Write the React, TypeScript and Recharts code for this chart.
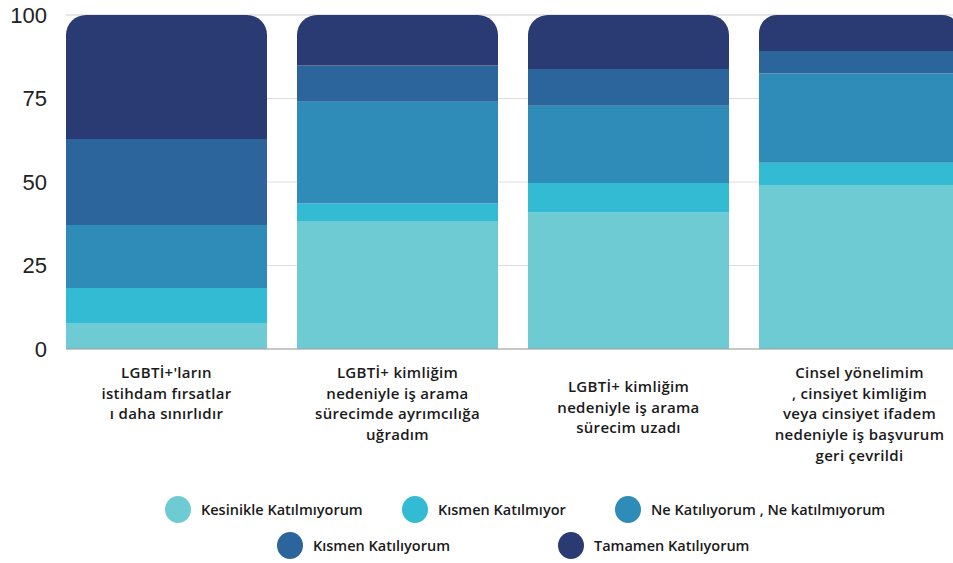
import React from "react";
import {
  BarChart,
  Bar,
  XAxis,
  YAxis,
  CartesianGrid,
  Legend,
} from "recharts";

// kategoriler (satır sonları eksen etiketindeki kırılımlar)
const categories = [
  "LGBTİ+'ların\nistihdam fırsatlar\nı daha sınırlıdır",
  "LGBTİ+ kimliğim\nnedeniyle iş arama\nsürecimde ayrımcılığa\nuğradım",
  "LGBTİ+ kimliğim\nnedeniyle iş arama\nsürecim uzadı",
  "Cinsel yönelimim\n, cinsiyet kimliğim\nveya cinsiyet ifadem\nnedeniyle iş başvurum\ngeri çevrildi",
];

const kesinlikleKatilmiyorum = [7.8, 38.3, 40.9, 49.1];
const kismenKatilmiyor = [10.5, 5.3, 8.8, 6.7];
const neKatiliyorumNeKatilmiyorum = [18.8, 30.4, 23.1, 26.7];
const kismenKatiliyorum = [25.8, 10.9, 11.0, 6.7];
const tamamenKatiliyorum = [37.1, 15.1, 16.2, 10.8];

const yTicks = [0, 25, 50, 75, 100];

const data = categories.map((name, i) => ({
  name,
  k1: kesinlikleKatilmiyorum[i],
  k2: kismenKatilmiyor[i],
  k3: neKatiliyorumNeKatilmiyorum[i],
  k4: kismenKatiliyorum[i],
  k5: tamamenKatiliyorum[i],
}));

const FONT = "'Open Sans', 'Noto Sans', sans-serif";

// etiketlerin dikey kayması (3. etiket biraz aşağıda)
const TICK_SHIFT = [0, 0, 14, 0];

const CategoryTick = (props: any) => {
  const { x, y, payload, index } = props;
  const lines = String(payload.value).split("\n");
  const base = y + 29 + (TICK_SHIFT[index] || 0);
  return (
    <text
      x={x}
      y={base}
      textAnchor="middle"
      fill="#1a1a1a"
      fontFamily={FONT}
      fontSize={15}
      fontWeight={600}
      letterSpacing={0.3}
    >
      {lines.map((l, i) => (
        <tspan key={i} x={x} y={base + i * 20.7}>
          {l}
        </tspan>
      ))}
    </text>
  );
};

// lejant yerleşimi, seri adına göre
const LEGEND_SLOTS: Record<string, { left: number; top: number }> = {
  "Kesinikle Katılmıyorum": { left: 165, top: 496 },
  "Kısmen Katılmıyor": { left: 402, top: 496 },
  "Ne Katılıyorum , Ne katılmıyorum": { left: 615, top: 496 },
  "Kısmen Katılıyorum": { left: 277, top: 532 },
  "Tamamen Katılıyorum": { left: 558, top: 532 },
};

const renderLegend = (props: any) => {
  const { payload = [] } = props;
  return (
    <div style={{ position: "relative", width: 990, height: 563 }}>
      {payload.map((p: any) => {
        const slot = LEGEND_SLOTS[p.value] || { left: 0, top: 0 };
        return (
          <div
            key={p.value}
            style={{
              position: "absolute",
              left: slot.left,
              top: slot.top,
              display: "flex",
              alignItems: "center",
              height: 27,
            }}
          >
            <span
              style={{
                display: "inline-block",
                width: 26,
                height: 27,
                borderRadius: "50%",
                background: p.color,
                marginRight: 10,
              }}
            />
            <span
              style={{
                fontFamily: FONT,
                fontSize: 14.5,
                fontWeight: 600,
                letterSpacing: 0,
                color: "#1a1a1a",
                whiteSpace: "nowrap",
              }}
            >
              {p.value}
            </span>
          </div>
        );
      })}
    </div>
  );
};

export default function App() {
  return (
    <div
      style={{
        position: "absolute",
        left: 0,
        top: 0,
        width: 953,
        height: 563,
        overflow: "hidden",
        background: "#fff",
      }}
    >
      <BarChart
        width={990}
        height={563}
        data={data}
        margin={{ top: 15, right: 15, left: 0, bottom: 0 }}
        barCategoryGap={15}
      >
        <CartesianGrid vertical={false} stroke="#dddddd" />
        <XAxis
          dataKey="name"
          height={214}
          tickLine={false}
          tickSize={0}
          tickMargin={0}
          axisLine={{ stroke: "#a0a0a0" }}
          padding={{ left: -15, right: 0 }}
          interval={0}
          tick={<CategoryTick />}
        />
        <YAxis
          width={66}
          domain={[0, 100]}
          ticks={yTicks}
          axisLine={false}
          tickLine={false}
          tickSize={0}
          tickMargin={19}
          tick={{
            fill: "#222",
            fontSize: 22,
            fontFamily: "'Liberation Sans', Arial, sans-serif",
          }}
        />
        <Legend
          verticalAlign="middle"
          align="center"
          content={renderLegend}
          wrapperStyle={{ top: 0, left: 0, width: 990, height: 563 }}
        />
        <Bar dataKey="k1" name="Kesinikle Katılmıyorum" stackId="a" fill="#6FCBD3" isAnimationActive={false} />
        <Bar dataKey="k2" name="Kısmen Katılmıyor" stackId="a" fill="#32BBD3" isAnimationActive={false} />
        <Bar dataKey="k3" name="Ne Katılıyorum , Ne katılmıyorum" stackId="a" fill="#2F8BB7" isAnimationActive={false} />
        <Bar dataKey="k4" name="Kısmen Katılıyorum" stackId="a" fill="#2C659B" isAnimationActive={false} />
        <Bar
          dataKey="k5"
          name="Tamamen Katılıyorum"
          stackId="a"
          fill="#2A3A73"
          radius={[20, 20, 0, 0]}
          isAnimationActive={false}
        />
      </BarChart>
    </div>
  );
}
